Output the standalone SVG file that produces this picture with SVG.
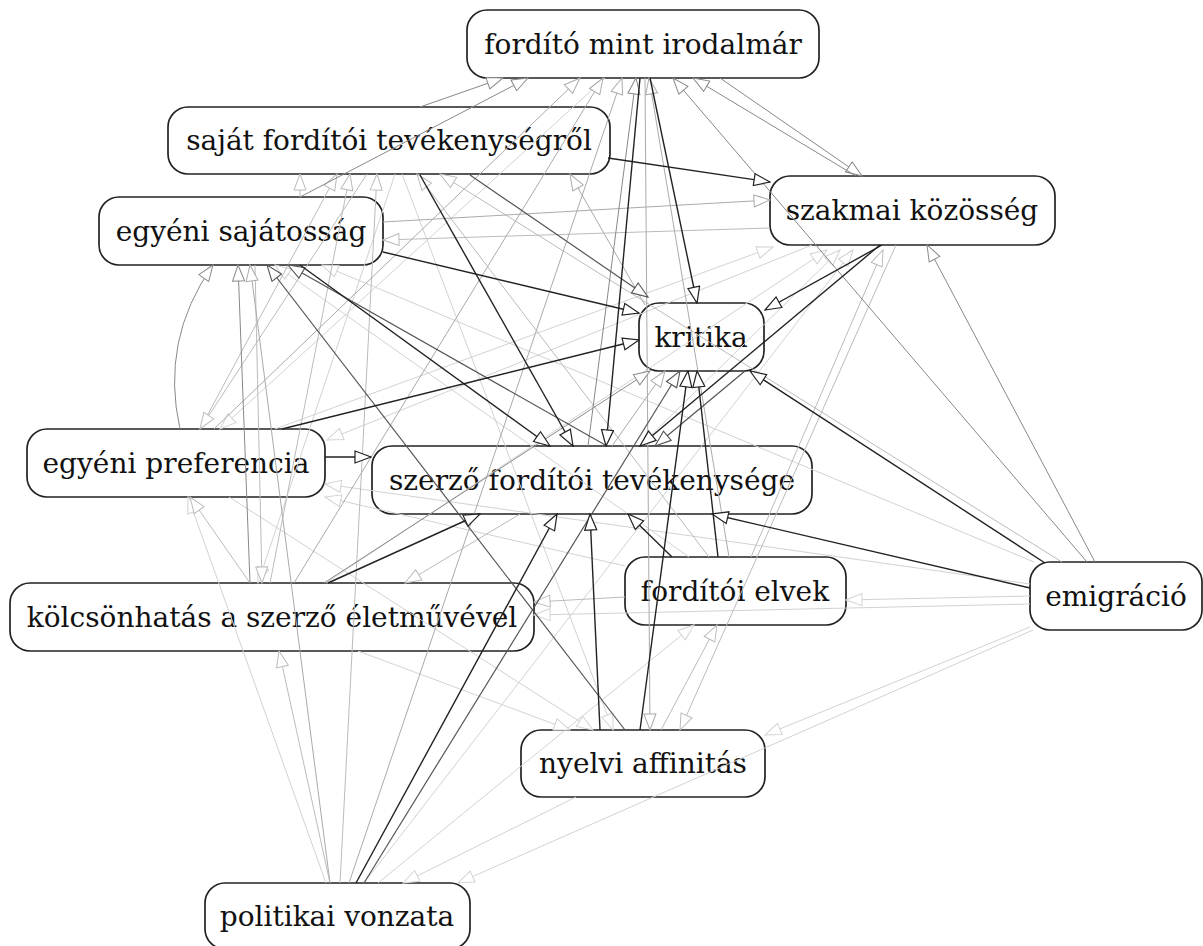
<svg xmlns="http://www.w3.org/2000/svg" width="1203" height="946" viewBox="0 0 1203 946">
<style>
.n rect{fill:#fff;stroke:#222;stroke-width:1.7}
.n text{font-family:"DejaVu Serif",serif;font-size:28px;fill:#111;text-anchor:middle}
line,path.c{fill:none}
.e1{stroke:#222;stroke-width:1.4;marker-end:url(#m1)}
.e2{stroke:#555;stroke-width:1.2;marker-end:url(#m2)}
.e3{stroke:#888;stroke-width:1;marker-end:url(#m3)}
.e4{stroke:#aaa;stroke-width:1;marker-end:url(#m4)}
.e5{stroke:#bbb;stroke-width:1;marker-end:url(#m5)}
.e6{stroke:#d2d2d2;stroke-width:1;marker-end:url(#m6)}
</style>
<defs>
<marker id="m1" viewBox="-1 -1 18 14" refX="16" refY="6" markerWidth="18" markerHeight="14" markerUnits="userSpaceOnUse" orient="auto"><path d="M0,0L16,6L0,12Z" fill="#fff" stroke="#222" stroke-width="1.2"/></marker>
<marker id="m2" viewBox="-1 -1 18 14" refX="16" refY="6" markerWidth="18" markerHeight="14" markerUnits="userSpaceOnUse" orient="auto"><path d="M0,0L16,6L0,12Z" fill="#fff" stroke="#555" stroke-width="1.1"/></marker>
<marker id="m3" viewBox="-1 -1 18 14" refX="16" refY="6" markerWidth="18" markerHeight="14" markerUnits="userSpaceOnUse" orient="auto"><path d="M0,0L16,6L0,12Z" fill="#fff" stroke="#888" stroke-width="1"/></marker>
<marker id="m4" viewBox="-1 -1 18 14" refX="16" refY="6" markerWidth="18" markerHeight="14" markerUnits="userSpaceOnUse" orient="auto"><path d="M0,0L16,6L0,12Z" fill="#fff" stroke="#aaa" stroke-width="1"/></marker>
<marker id="m5" viewBox="-1 -1 18 14" refX="16" refY="6" markerWidth="18" markerHeight="14" markerUnits="userSpaceOnUse" orient="auto"><path d="M0,0L16,6L0,12Z" fill="#fff" stroke="#bbb" stroke-width="1"/></marker>
<marker id="m6" viewBox="-1 -1 18 14" refX="16" refY="6" markerWidth="18" markerHeight="14" markerUnits="userSpaceOnUse" orient="auto"><path d="M0,0L16,6L0,12Z" fill="#fff" stroke="#d2d2d2" stroke-width="1"/></marker>
</defs>
<rect width="1203" height="946" fill="#fff"/>
<g id="nodes">
<g id="n-forditomint" class="n"><rect x="467" y="10" width="352" height="68" rx="20"/><text x="643" y="54">fordító mint irodalmár</text></g>
<g id="n-sajat" class="n"><rect x="168" y="107" width="442" height="67" rx="20"/><text x="389" y="150">saját fordítói tevékenységről</text></g>
<g id="n-szakmai" class="n"><rect x="770" y="176" width="285" height="69" rx="20"/><text x="912" y="220">szakmai közösség</text></g>
<g id="n-egyenisaj" class="n"><rect x="99" y="197" width="284" height="68" rx="20"/><text x="241" y="241">egyéni sajátosság</text></g>
<g id="n-kritika" class="n"><rect x="639" y="303" width="125" height="68" rx="20"/><text x="701" y="347">kritika</text></g>
<g id="n-egyenipref" class="n"><rect x="27" y="429" width="298" height="68" rx="20"/><text x="176" y="473">egyéni preferencia</text></g>
<g id="n-szerzo" class="n"><rect x="372" y="446" width="440" height="68" rx="20"/><text x="592" y="490">szerző fordítói tevékenysége</text></g>
<g id="n-elvek" class="n"><rect x="625" y="557" width="221" height="68" rx="20"/><text x="735" y="601">fordítói elvek</text></g>
<g id="n-emigracio" class="n"><rect x="1030" y="562" width="172" height="68" rx="20"/><text x="1116" y="606">emigráció</text></g>
<g id="n-kolcson" class="n"><rect x="10" y="583" width="524" height="68" rx="20"/><text x="272" y="627">kölcsönhatás a szerző életművével</text></g>
<g id="n-nyelvi" class="n"><rect x="521" y="730" width="244" height="67" rx="20"/><text x="643" y="773">nyelvi affinitás</text></g>
<g id="n-politikai" class="n"><rect x="205" y="883" width="265" height="66" rx="20"/><text x="337" y="926">politikai vonzata</text></g>
</g>
<g id="connectors">
<line class="e6" x1="275" y1="429" x2="773" y2="247"/>
<line class="e6" x1="326" y1="583" x2="827" y2="250"/>
<line class="e6" x1="364" y1="883" x2="853" y2="250"/>
<line class="e6" x1="640" y1="446" x2="840" y2="250"/>
<line class="e6" x1="689" y1="557" x2="275" y2="265"/>
<line class="e6" x1="1034" y1="562" x2="322" y2="265"/>
<line class="e6" x1="605" y1="78" x2="220" y2="429"/>
<line class="e6" x1="812" y1="245" x2="327" y2="440"/>
<line class="e6" x1="326" y1="883" x2="188" y2="497"/>
<line class="e6" x1="625" y1="566" x2="325" y2="497"/>
<line class="e6" x1="1030" y1="596" x2="846" y2="600"/>
<line class="e6" x1="378" y1="883" x2="694" y2="625"/>
<line class="e6" x1="1030" y1="604" x2="534" y2="615"/>
<line class="e6" x1="1030" y1="584" x2="325" y2="484"/>
<line class="e6" x1="402" y1="174" x2="613" y2="730"/>
<line class="e6" x1="229" y1="497" x2="593" y2="730"/>
<line class="e6" x1="358" y1="651" x2="570" y2="730"/>
<line class="e6" x1="1030" y1="627" x2="765" y2="735"/>
<line class="e6" x1="576" y1="797" x2="403" y2="883"/>
<line class="e6" x1="1033" y1="630" x2="458" y2="883"/>
<line class="e6" x1="395" y1="174" x2="258" y2="583"/>
<line class="e5" x1="300" y1="197" x2="300" y2="174"/>
<line class="e5" x1="200" y1="429" x2="337" y2="174"/>
<line class="e5" x1="270" y1="583" x2="350" y2="174"/>
<line class="e5" x1="340" y1="883" x2="377" y2="174"/>
<line class="e5" x1="709" y1="557" x2="417" y2="174"/>
<line class="e5" x1="1062" y1="562" x2="440" y2="174"/>
<line class="e5" x1="770" y1="228" x2="383" y2="240"/>
<line class="e5" x1="896" y1="245" x2="680" y2="730"/>
<line class="e5" x1="751" y1="557" x2="883" y2="250"/>
<line class="e5" x1="250" y1="583" x2="190" y2="497"/>
<line class="e5" x1="520" y1="514" x2="405" y2="583"/>
<line class="e5" x1="625" y1="597" x2="534" y2="602"/>
<line class="e5" x1="330" y1="883" x2="279" y2="651"/>
<line class="e5" x1="661" y1="730" x2="717" y2="625"/>
<line class="e5" x1="255" y1="265" x2="262" y2="583"/>
<line class="e5" x1="367" y1="174" x2="200" y2="429"/>
<line class="e4" x1="214" y1="429" x2="580" y2="78"/>
<line class="e4" x1="294" y1="583" x2="603" y2="78"/>
<line class="e4" x1="349" y1="883" x2="622" y2="78"/>
<line class="e4" x1="645" y1="78" x2="650" y2="730"/>
<line class="e4" x1="645" y1="305" x2="570" y2="174"/>
<line class="e4" x1="383" y1="222" x2="770" y2="200"/>
<line class="e4" x1="330" y1="883" x2="250" y2="265"/>
<line class="e4" x1="612" y1="446" x2="665" y2="371"/>
<line class="e4" x1="729" y1="557" x2="649" y2="78"/>
<line class="e3" x1="720" y1="78" x2="862" y2="176"/>
<path class="e3 c" d="M180,429 Q160,340 213,265"/>
<line class="e3" x1="250" y1="583" x2="238" y2="265"/>
<line class="e3" x1="420" y1="107" x2="503" y2="78"/>
<line class="e3" x1="300" y1="197" x2="528" y2="78"/>
<line class="e3" x1="588" y1="446" x2="636" y2="78"/>
<line class="e3" x1="856" y1="176" x2="693" y2="78"/>
<line class="e3" x1="1087" y1="562" x2="673" y2="78"/>
<line class="e3" x1="1095" y1="562" x2="927" y2="245"/>
<line class="e3" x1="324" y1="583" x2="650" y2="371"/>
<line class="e2" x1="625" y1="730" x2="267" y2="265"/>
<line class="e2" x1="607" y1="446" x2="288" y2="265"/>
<line class="e2" x1="745" y1="371" x2="655" y2="446"/>
<line class="e2" x1="364" y1="883" x2="680" y2="371"/>
<line class="e2" x1="470" y1="175" x2="648" y2="297"/>
<line class="e1" x1="650" y1="78" x2="697" y2="303"/>
<line class="e1" x1="640" y1="78" x2="606" y2="446"/>
<line class="e1" x1="420" y1="175" x2="573" y2="446"/>
<line class="e1" x1="300" y1="265" x2="550" y2="446"/>
<line class="e1" x1="880" y1="245" x2="640" y2="446"/>
<line class="e1" x1="325" y1="457" x2="371" y2="457"/>
<line class="e1" x1="328" y1="583" x2="480" y2="514"/>
<line class="e1" x1="356" y1="883" x2="557" y2="514"/>
<line class="e1" x1="600" y1="730" x2="590" y2="514"/>
<line class="e1" x1="672" y1="557" x2="628" y2="514"/>
<line class="e1" x1="1030" y1="588" x2="712" y2="514"/>
<line class="e1" x1="383" y1="252" x2="639" y2="313"/>
<line class="e1" x1="282" y1="429" x2="639" y2="340"/>
<line class="e1" x1="882" y1="245" x2="765" y2="310"/>
<line class="e1" x1="640" y1="730" x2="688" y2="371"/>
<line class="e1" x1="718" y1="557" x2="697" y2="371"/>
<line class="e1" x1="1045" y1="563" x2="750" y2="371"/>
<line class="e1" x1="608" y1="158" x2="770" y2="182"/>
</g>
</svg>
